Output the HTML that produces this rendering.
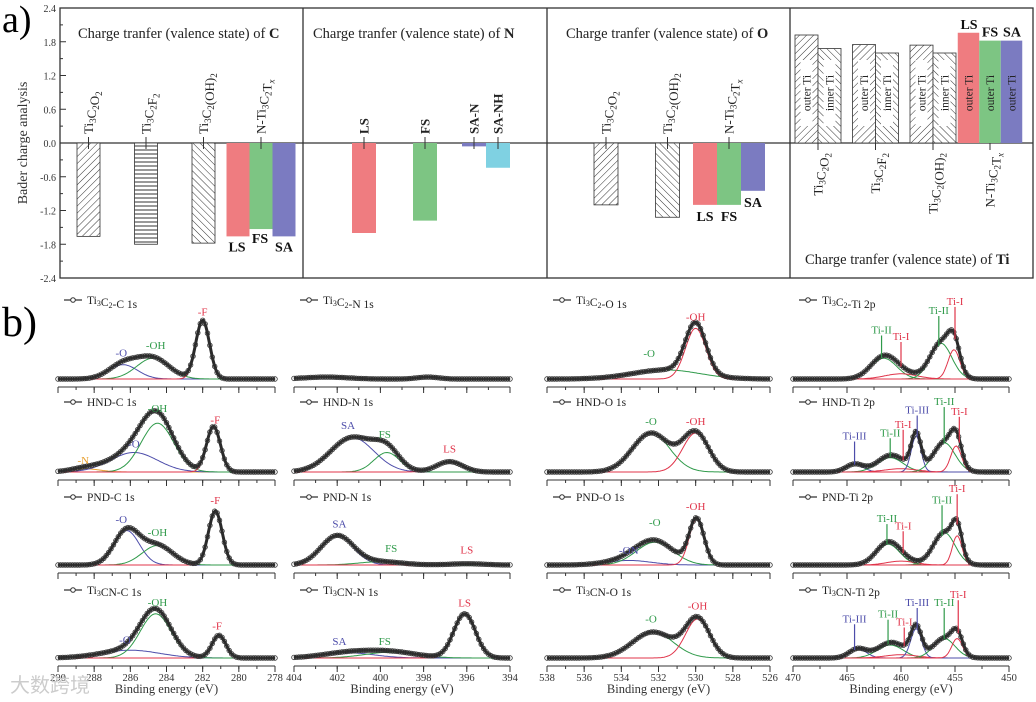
<!DOCTYPE html>
<html><head><meta charset="utf-8">
<style>
html,body{margin:0;padding:0;background:#fff;}
svg{display:block;font-family:"Liberation Serif",serif;}
</style></head>
<body>
<svg id="fig" width="1036" height="702" viewBox="0 0 1036 702" xmlns="http://www.w3.org/2000/svg">
<defs>
<pattern id="hatchF" patternUnits="userSpaceOnUse" width="5" height="5" patternTransform="rotate(45)"><rect width="5" height="5" fill="#fff"/><line x1="0" y1="0" x2="0" y2="5" stroke="#333" stroke-width="1"/></pattern>
<pattern id="hatchB" patternUnits="userSpaceOnUse" width="5" height="5" patternTransform="rotate(-45)"><rect width="5" height="5" fill="#fff"/><line x1="0" y1="0" x2="0" y2="5" stroke="#333" stroke-width="1"/></pattern>
<pattern id="hatchH" patternUnits="userSpaceOnUse" width="5" height="4"><rect width="5" height="4" fill="#fff"/><line x1="0" y1="2" x2="5" y2="2" stroke="#333" stroke-width="1"/></pattern>
</defs>
<text x="2" y="32" font-size="38">a)</text>
<text x="2" y="336" font-size="42">b)</text>
<g id="pa"></g>
<g id="pb"></g>
<text x="10" y="692" font-size="20" fill="#ccc" font-family="'Liberation Sans','Noto Sans CJK SC',sans-serif">大数跨境</text>
</svg>
<script>
// ---------- Panel a data ----------
const cCats=['Ti_3C_2O_2','Ti_3C_2F_2','Ti_3C_2(OH)_2','LS','FS','SA'];
const cVals=[-1.66,-1.80,-1.78,-1.66,-1.53,-1.66];
const nCats=['LS','FS','SA-N','SA-NH'];
const nVals=[-1.60,-1.38,-0.06,-0.44];
const oCats=['Ti_3C_2O_2','Ti_3C_2(OH)_2','LS','FS','SA'];
const oVals=[-1.10,-1.32,-1.10,-1.10,-0.85];
const tiCats=['outer Ti','inner Ti','outer Ti','inner Ti','outer Ti','inner Ti','LS','FS','SA'];
const tiVals=[1.92,1.68,1.75,1.60,1.74,1.60,1.96,1.82,1.82];
const yTicks=['2.4','1.8','1.2','0.6','0.0','-0.6','-1.2','-1.8','-2.4'];

const NS='http://www.w3.org/2000/svg';
function mk(tag,attrs,parent){const e=document.createElementNS(NS,tag);for(const k in attrs)e.setAttribute(k,attrs[k]);parent.appendChild(e);return e;}
function fm(s){
  let out='';for(let i=0;i<s.length;i++){const c=s[i];
    if(c==='_'){const n=s[i+1];const it=n==='x'?' font-style="italic"':'';out+='<tspan font-size="9" dy="3"'+it+'>'+n+'</tspan><tspan dy="-3"></tspan>';i++;}
    else out+=c;}return out;}
const pa=document.getElementById('pa');
const Y0=143,SC=56.25;
const ya=v=>Y0-v*SC;
const FL=60,FR=1033,FT=8,FB=278;
const COL={LS:'#ef7c80',FS:'#7dc583',SA:'#7b7bc1','SA-N':'#7b7bc1','SA-NH':'#7fd1e2'};

let fr=mk('rect',{x:FL,y:FT,width:FR-FL,height:FB-FT,fill:'none',stroke:'#333','stroke-width':1.3},pa);

[303,547,790].forEach(x=>{const l=mk('line',{x1:x,y1:FT,x2:x,y2:FB,stroke:'#333','stroke-width':1.3},pa);
 });
let zl=mk('line',{x1:FL,y1:Y0,x2:FR,y2:Y0,stroke:'#333','stroke-width':1.2},pa);

yTicks.forEach(t=>{const v=parseFloat(t);const y=ya(v);
 mk('line',{x1:FL,y1:y,x2:FL+6,y2:y,stroke:'#333'},pa);
 if(v>-2.4)mk('line',{x1:FL,y1:ya(v-0.3),x2:FL+3,y2:ya(v-0.3),stroke:'#333'},pa);
 const tx=mk('text',{x:FL-4,y:y+4,'font-size':10,'text-anchor':'end',fill:'#333'},pa);tx.textContent=t;
 });
let yt=mk('text',{x:0,y:0,'font-size':14,'text-anchor':'middle',transform:'translate(27,143) rotate(-90)',fill:'#333'},pa);
yt.textContent='Bader charge analysis';
function title(x,y,el){const t=mk('text',{x:x,y:y,'font-size':14.5,fill:'#222'},pa);
 t.innerHTML='Charge tranfer (valence state) of <tspan font-weight="bold">'+el+'</tspan>';
 }
title(78,38,'C');title(313,38,'N');title(566,38,'O');title(805,264,'Ti');

function bar(xc,v,w,fill,name){const y1=ya(v);const r=mk('rect',{x:xc-w/2,y:Math.min(y1,Y0),width:w,height:Math.abs(Y0-y1),fill:fill,stroke:/url/.test(fill)?'#333':'none','stroke-width':0.8},pa);
 return r;}
function catLabel(xc,html,below,bold){mk('line',{x1:xc,y1:below?Y0:137,x2:xc,y2:below?150:149,stroke:'#333'},pa);
 const t=mk('text',{x:0,y:0,'font-size':13,'text-anchor':below?'end':'start',fill:'#222','font-weight':bold?'bold':'normal',transform:'translate('+(xc+4.5)+','+(below?153:134)+') rotate(-90)'},pa);
 t.innerHTML=html;}
function blabel(x,y,s){const t=mk('text',{x:x,y:y,'font-size':14,'font-weight':'bold','text-anchor':'middle',fill:'#111'},pa);t.textContent=s;
 }
const hat=['url(#hatchF)','url(#hatchH)','url(#hatchB)'];
for(let i=0;i<3;i++){const xc=88.5+57.5*i;bar(xc,cVals[i],23,hat[i],'bar-c-'+i);catLabel(xc,fm(cCats[i]),false,false);}
for(let j=0;j<3;j++){const xc=261+(j-1)*23;bar(xc,cVals[3+j],23,COL[cCats[3+j]],'bar-c-'+cCats[3+j].toLowerCase());}
catLabel(261,fm('N-Ti_3C_2T_x'),false,false);
blabel(237,ya(cVals[3])+15,'LS');blabel(260,ya(cVals[4])+14,'FS');blabel(284,ya(cVals[5])+15,'SA');
for(let i=0;i<2;i++){const xc=364+61*i;bar(xc,nVals[i],24,COL[nCats[i]],'bar-n-'+nCats[i].toLowerCase());catLabel(xc,nCats[i],false,true);}
for(let j=0;j<2;j++){const xc=486+(j-0.5)*24;bar(xc,nVals[2+j],24,COL[nCats[2+j]],'bar-n-'+nCats[2+j].toLowerCase());catLabel(xc,nCats[2+j],false,true);}
for(let i=0;i<2;i++){const xc=606+61.5*i;bar(xc,oVals[i],24,hat[i===0?0:2],'bar-o-'+i);catLabel(xc,fm(oCats[i]),false,false);}
for(let j=0;j<3;j++){const xc=729+(j-1)*24;bar(xc,oVals[2+j],24,COL[oCats[2+j]],'bar-o-'+oCats[2+j].toLowerCase());}
catLabel(729,fm('N-Ti_3C_2T_x'),false,false);
blabel(705,ya(oVals[2])+16,'LS');blabel(729,ya(oVals[3])+16,'FS');blabel(753,ya(oVals[4])+16,'SA');
const tiGroups=['Ti_3C_2O_2','Ti_3C_2F_2','Ti_3C_2(OH)_2','N-Ti_3C_2T_x'];
for(let g=0;g<3;g++){const gc=818+57.5*g;
 for(let k=0;k<2;k++){const i=g*2+k;const xc=gc+(k-0.5)*23;bar(xc,tiVals[i],23,k===0?'url(#hatchF)':'url(#hatchB)','bar-ti-'+i);
  mk('rect',{x:xc-6,y:60,width:12,height:66,fill:'#fff'},pa);
  const t=mk('text',{x:0,y:0,'font-size':11.5,'text-anchor':'middle',fill:'#222',transform:'translate('+(xc+4)+',93) rotate(-90)'},pa);t.textContent=tiCats[i];
  }
 catLabel(gc,fm(tiGroups[g]),true,false);}
for(let j=0;j<3;j++){const xc=990+(j-1)*21.5;bar(xc,tiVals[6+j],21.5,COL[tiCats[6+j]],'bar-ti-'+tiCats[6+j].toLowerCase());
 const t=mk('text',{x:0,y:0,'font-size':11.5,'text-anchor':'middle',fill:'#222',transform:'translate('+(xc+4)+',93) rotate(-90)'},pa);t.textContent='outer Ti';
 }
catLabel(990,fm('N-Ti_3C_2T_x'),true,false);
blabel(969,ya(tiVals[6])-4,'LS');blabel(990,ya(tiVals[7])-4,'FS');blabel(1012,ya(tiVals[8])-4,'SA');

// ---------- Panel b data ----------
const legC=['Ti_3C_2-C 1s','HND-C 1s','PND-C 1s','Ti_3CN-C 1s'];
const legN=['Ti_3C_2-N 1s','HND-N 1s','PND-N 1s','Ti_3CN-N 1s'];
const legO=['Ti_3C_2-O 1s','HND-O 1s','PND-O 1s','Ti_3CN-O 1s'];
const legT=['Ti_3C_2-Ti 2p','HND-Ti 2p','PND-Ti 2p','Ti_3CN-Ti 2p'];
const compC=[
 [[286.4,0.22,0.8,'b'],[284.75,0.32,0.9,'g'],[282.0,0.9,0.38,'r']],
 [[288.5,0.05,0.8,'o'],[285.8,0.3,1.3,'b'],[284.5,0.75,0.9,'g'],[281.4,0.7,0.38,'r']],
 [[286.2,0.53,0.7,'b'],[284.5,0.3,0.85,'g'],[281.3,0.83,0.38,'r']],
 [[286.0,0.12,1.6,'b'],[284.6,0.68,0.85,'g'],[281.1,0.35,0.38,'r']]];
const compN=[
 [[402.5,0.03,1.0,'k'],[397.8,0.03,0.5,'k']],
 [[401.3,0.53,1.0,'b'],[399.7,0.3,0.6,'g'],[396.8,0.16,0.6,'r']],
 [[402.0,0.45,0.75,'b'],[400.0,0.05,1.0,'g'],[396.0,0.02,0.8,'r']],
 [[401.5,0.08,1.2,'b'],[399.5,0.09,1.2,'g'],[396.1,0.68,0.5,'r']]];
const compO=[
 [[531.6,0.14,1.8,'g'],[530.0,0.78,0.55,'r']],
 [[532.4,0.6,1.0,'g'],[530.0,0.6,0.7,'r']],
 [[533.6,0.07,1.2,'b'],[532.2,0.35,1.0,'g'],[529.95,0.7,0.4,'r']],
 [[532.3,0.4,1.1,'g'],[529.9,0.6,0.65,'r']]];
const compT=[
 [[461.6,0.32,1.2,'g'],[460.0,0.08,1.5,'r'],[456.3,0.55,1.0,'g'],[455.1,0.45,0.55,'r']],
 [[464.3,0.12,0.8,'b'],[461.0,0.22,1.2,'g'],[460.0,0.05,1.5,'r'],[458.6,0.55,0.45,'b'],[456.0,0.45,1.0,'g'],[454.9,0.4,0.5,'r']],
 [[461.2,0.32,1.1,'g'],[460.0,0.06,1.3,'r'],[456.0,0.5,1.0,'g'],[454.8,0.45,0.45,'r']],
 [[464.0,0.14,0.8,'b'],[461.0,0.2,1.2,'g'],[460.0,0.05,1.5,'r'],[458.6,0.45,0.5,'b'],[456.0,0.3,1.0,'g'],[454.8,0.3,0.5,'r']]];
const labC=[[['-O',286.5,0.35,'b'],['-OH',284.6,0.46,'g'],['-F',282.0,0.98,'r']],
 [['-N',288.6,0.12,'o'],['-O',285.8,0.38,'b'],['-OH',284.5,0.92,'g'],['-F',281.3,0.75,'r']],
 [['-O',286.5,0.65,'b'],['-OH',284.5,0.45,'g'],['-F',281.3,0.94,'r']],
 [['-O',286.3,0.22,'b'],['-OH',284.5,0.8,'g'],['-F',281.2,0.44,'r']]];
const labN=[[],[['SA',401.5,0.66,'b'],['FS',399.8,0.52,'g'],['LS',396.8,0.3,'r']],
 [['SA',401.9,0.58,'b'],['FS',399.5,0.2,'g'],['LS',396.0,0.18,'r']],
 [['SA',401.9,0.2,'b'],['FS',399.8,0.2,'g'],['LS',396.1,0.79,'r']]];
const labO=[[['-O',532.5,0.34,'g'],['-OH',530.0,0.9,'r']],
 [['-O',532.4,0.72,'g'],['-OH',530.0,0.72,'r']],
 [['-ON',533.6,0.17,'b'],['-O',532.2,0.6,'g'],['-OH',530.0,0.85,'r']],
 [['-O',532.4,0.55,'g'],['-OH',529.9,0.75,'r']]];
const labT=[[['Ti-II',461.8,0.7,'g'],['Ti-I',460.0,0.6,'r'],['Ti-II',456.5,1.0,'g'],['Ti-I',455.0,1.14,'r']],
 [['Ti-III',464.3,0.5,'b'],['Ti-II',461.0,0.55,'g'],['Ti-I',459.8,0.68,'r'],['Ti-III',458.5,0.9,'b'],['Ti-II',456.0,1.03,'g'],['Ti-I',454.6,0.88,'r']],
 [['Ti-II',461.3,0.66,'g'],['Ti-I',459.8,0.55,'r'],['Ti-II',456.2,0.95,'g'],['Ti-I',454.8,1.12,'r']],
 [['Ti-III',464.3,0.55,'b'],['Ti-II',461.2,0.62,'g'],['Ti-I',459.7,0.5,'r'],['Ti-III',458.5,0.8,'b'],['Ti-II',456.0,0.8,'g'],['Ti-I',454.7,0.92,'r']]];
const ticksC=['290','288','286','284','282','280','278'];
const ticksN=['404','402','400','398','396','394'];
const ticksO=['538','536','534','532','530','528','526'];
const ticksT=['470','465','460','455','450'];

const CK={b:'#4d4daa',g:'#2f9a4a',r:'#e0344a',o:'#e8a030',k:'#555'};
const cols=[
 {x0:58,x1:275,d0:290,d1:278,minor:1,ticks:ticksC,comp:compC,lab:labC,leg:legC,name:'c1s'},
 {x0:294,x1:510,d0:404,d1:394,minor:1,ticks:ticksN,comp:compN,lab:labN,leg:legN,name:'n1s'},
 {x0:547,x1:770,d0:538,d1:526,minor:1,ticks:ticksO,comp:compO,lab:labO,leg:legO,name:'o1s'},
 {x0:793,x1:1009,d0:470,d1:450,minor:2.5,ticks:ticksT,comp:compT,lab:labT,leg:legT,name:'ti2p'}];
const axisY=[387,480,573,666];
const legOff=[87,78,76,76];
const AMP=65;
const pb=document.getElementById('pb');
function gauss(comps,e){let s=0;comps.forEach(c=>{s+=c[1]*Math.exp(-0.5*Math.pow((e-c[0])/c[2],2));});return s;}
cols.forEach((C,ci)=>{
 const xs=e=>C.x0+(C.d0-e)/(C.d0-C.d1)*(C.x1-C.x0);
 for(let r=0;r<4;r++){
  const ay=axisY[r],base=ay-8;const ys=a=>base-a*AMP;
  const g=mk('g',{},pb);
  
  
  mk('line',{x1:C.x0,y1:ay,x2:C.x1,y2:ay,stroke:'#333','stroke-width':1},g);
  const lo=Math.min(C.d0,C.d1),hi=Math.max(C.d0,C.d1);
  for(let e=hi;e>=lo-1e-6;e-=C.minor){mk('line',{x1:xs(e),y1:ay,x2:xs(e),y2:ay+3,stroke:'#333'},g);}
  C.ticks.forEach(t=>{const x=xs(parseFloat(t));mk('line',{x1:x,y1:ay,x2:x,y2:ay+6,stroke:'#333'},g);
   if(r===3){const tx=mk('text',{x:x,y:ay+15,'font-size':10.5,'text-anchor':'middle',fill:'#333'},g);tx.textContent=t;
    }});
  if(r===3){const xt=mk('text',{x:(C.x0+C.x1)/2,y:ay+27,'font-size':12.5,'text-anchor':'middle',fill:'#333'},g);xt.textContent='Binding energy (eV)';
   }
  const comps=C.comp[r];
  const N=160;
  comps.forEach(c=>{if(c[3]==='k')return;let d='';for(let i=0;i<=N;i++){const e=C.d0+(C.d1-C.d0)*i/N;const a=c[1]*Math.exp(-0.5*Math.pow((e-c[0])/c[2],2));d+=(i?'L':'M')+xs(e).toFixed(1)+','+ys(a).toFixed(1);}
   const p=mk('path',{d:d,fill:'none',stroke:CK[c[3]],'stroke-width':1},g);});
  let d='';for(let i=0;i<=N;i++){const e=C.d0+(C.d1-C.d0)*i/N;d+=(i?'L':'M')+xs(e).toFixed(1)+','+ys(gauss(comps,e)).toFixed(1);}
  const env=mk('path',{d:d,fill:'none',stroke:'#2a2a2a','stroke-width':3},g);
  const M=90;for(let i=0;i<=M;i++){const e=C.d0+(C.d1-C.d0)*i/M;mk('circle',{cx:xs(e).toFixed(1),cy:ys(gauss(comps,e)).toFixed(1),r:2.3,fill:'none',stroke:'#333','stroke-width':0.8},g);}
  C.lab[r].forEach(L=>{const x=xs(L[1]),y=ys(L[2]);
   if(ci===3){const tip=ys(gauss(comps,L[1])*0.9);mk('line',{x1:x,y1:y+2,x2:x,y2:Math.max(y+4,tip),stroke:CK[L[3]],'stroke-width':1.2},g);}
   const t=mk('text',{x:x,y:y,'font-size':11,'text-anchor':'middle',fill:CK[L[3]]},g);t.textContent=L[0];
   });
  const lx=C.x0+6,ly=ay-legOff[r];
  const lg=mk('g',{},g);
  mk('line',{x1:lx,y1:ly,x2:lx+18,y2:ly,stroke:'#333','stroke-width':1.2},lg);
  mk('circle',{cx:lx+9,cy:ly,r:2.3,fill:'#fff',stroke:'#333'},lg);
  const lt=mk('text',{x:lx+23,y:ly+4,'font-size':11.5,fill:'#222'},lg);lt.innerHTML=fm(C.leg[r]).replace(/font-size="9" dy="3"/g,'font-size="8" dy="2"').replace(/dy="-3"/g,'dy="-2"');
 }
});
</script>
</body></html>
